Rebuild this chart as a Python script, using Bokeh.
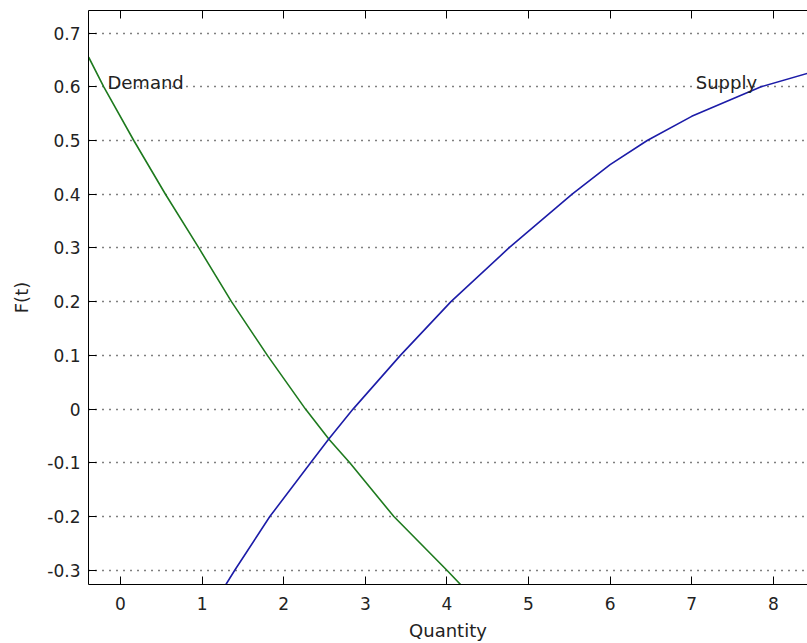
from bokeh.plotting import figure
from bokeh.models import Range1d, LinearAxis, FixedTicker, CustomLabelingPolicy
from bokeh.core.properties import value
from bokeh.embed import file_html
from bokeh.resources import INLINE

# Data
demand_quantity = [-0.39, -0.205, 0.163, 0.551, 0.96, 1.36, 1.80, 2.267, 2.56, 2.81, 3.35, 4.00, 4.17]
demand_f = [0.655, 0.6, 0.5, 0.4, 0.3, 0.2, 0.1, 0.0, -0.057, -0.1, -0.2, -0.3, -0.327]
supply_quantity = [1.29, 1.40, 1.83, 2.33, 2.55, 2.85, 3.43, 4.05, 4.76, 5.535, 6.0, 6.455, 7.0, 7.85, 8.42]
supply_f = [-0.327, -0.3, -0.2, -0.1, -0.056, 0.0, 0.1, 0.2, 0.3, 0.4, 0.455, 0.5, 0.545, 0.6, 0.625]

x_ticks = [0, 1, 2, 3, 4, 5, 6, 7, 8]
y_ticks = [-0.3, -0.2, -0.1, 0, 0.1, 0.2, 0.3, 0.4, 0.5, 0.6, 0.7]
y_tick_labels = {-0.3: "-0.3", -0.2: "-0.2", -0.1: "-0.1", 0: "0", 0.1: "0.1", 0.2: "0.2",
                 0.3: "0.3", 0.4: "0.4", 0.5: "0.5", 0.6: "0.6", 0.7: "0.7"}

curve_names = ["Demand", "Supply"]
name_quantity = [-0.16, 7.05]
name_f = [0.608, 0.608]

FONT = "DejaVu Sans"

p = figure(width=807, height=643, output_backend="svg", toolbar_location=None,
           x_range=Range1d(-0.392, 8.419), y_range=Range1d(-0.3265, 0.742),
           x_axis_label="Quantity", y_axis_label="F(t)",
           min_border_left=88, min_border_right=0, min_border_top=10, min_border_bottom=57)
p.outline_line_color = None
p.background_fill_color = "white"
p.border_fill_color = "white"

p.xaxis.ticker = FixedTicker(ticks=x_ticks)
p.yaxis.ticker = FixedTicker(ticks=y_ticks)
p.yaxis.major_label_overrides = y_tick_labels

for ax in (p.xaxis[0], p.yaxis[0]):
    ax.major_tick_in = 8
    ax.major_tick_out = 0
    ax.minor_tick_line_color = None
    ax.axis_line_color = "black"
    ax.major_tick_line_color = "black"
    ax.major_label_text_font = FONT
    ax.major_label_text_font_size = "17px"
    ax.major_label_text_color = "#222222"
    ax.axis_label_text_font = FONT
    ax.axis_label_text_font_size = "18px"
    ax.axis_label_text_font_style = "normal"
    ax.axis_label_text_color = "#222222"

p.xaxis.major_label_standoff = 12
p.xaxis.axis_label_standoff = 7
p.yaxis.major_label_standoff = 8
p.yaxis.axis_label_standoff = 12

hide_all = CustomLabelingPolicy(code="""
const all = Array.from(indices)
for (const i of all) indices.unset(i)
return indices
""")
top_axis = LinearAxis(ticker=FixedTicker(ticks=x_ticks), major_tick_in=8, major_tick_out=0,
                      minor_tick_line_color=None, major_label_text_font_size="1px",
                      major_label_standoff=0, major_label_policy=hide_all,
                      axis_line_color="black", major_tick_line_color="black")
p.add_layout(top_axis, "above")

p.xgrid.visible = False
p.ygrid.grid_line_color = "black"
p.ygrid.grid_line_dash = "1 6"
p.ygrid.grid_line_width = 1.3

p.line(demand_quantity, demand_f, line_color="#1e7a1e", line_width=1.6)
p.line(supply_quantity, supply_f, line_color="#1c1ca8", line_width=1.6)

p.text(name_quantity, name_f, text=curve_names, text_font=value(FONT), text_font_size="18px",
       text_color="#222222", text_baseline="alphabetic", text_align="left")

open("out.html", "w").write(file_html(p, INLINE))
